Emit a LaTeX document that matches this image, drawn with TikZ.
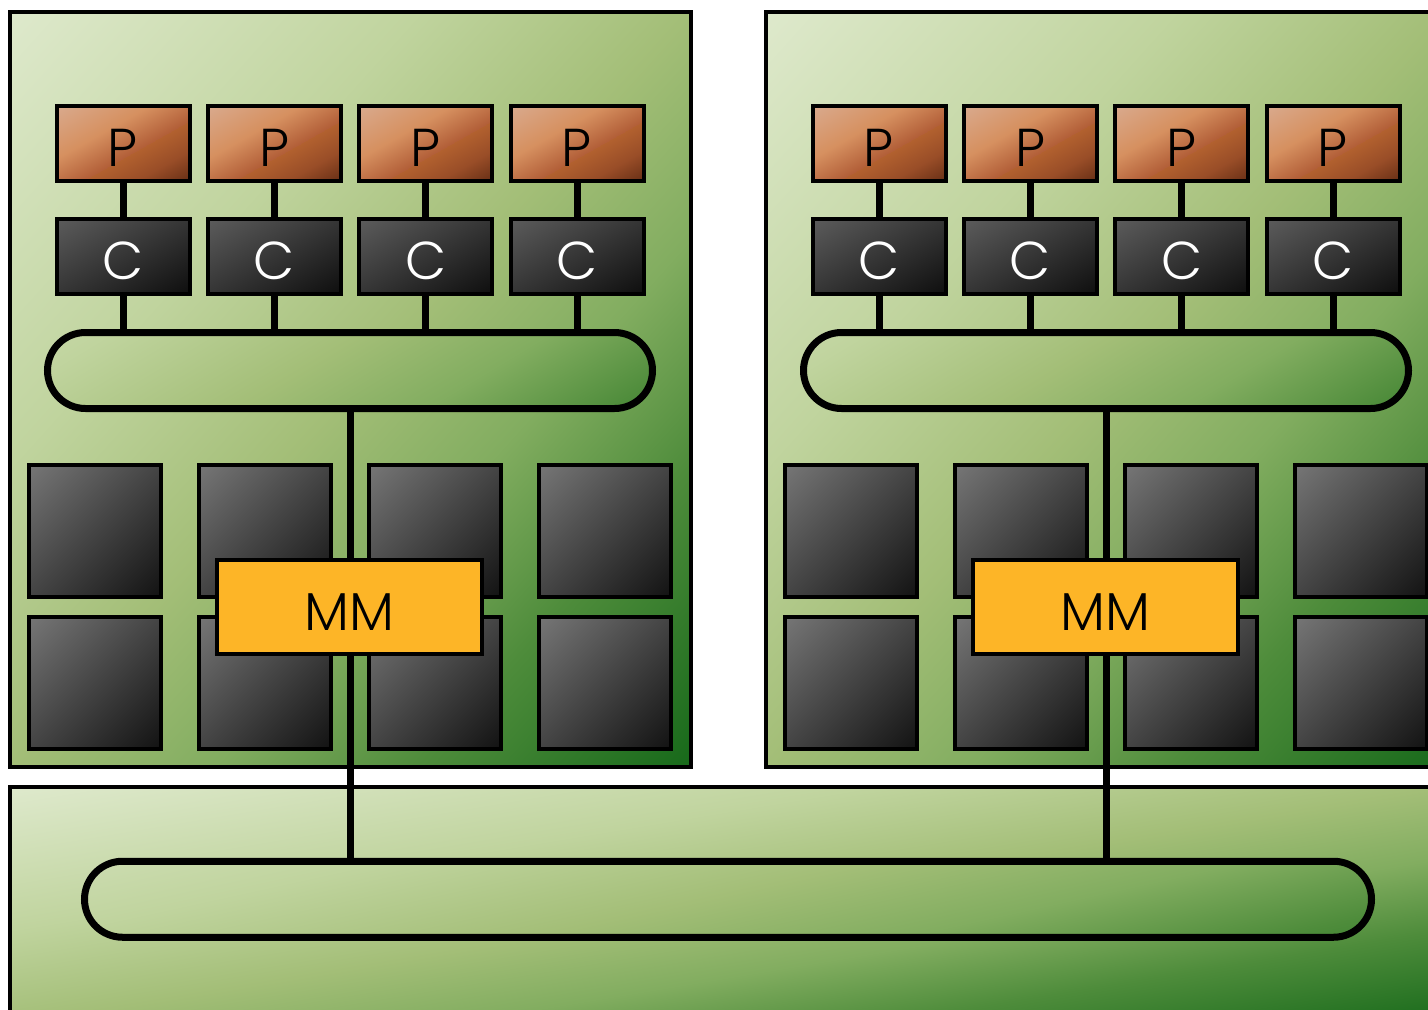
\documentclass[tikz,border=0pt]{standalone}
\usepackage{fontspec}
\setmainfont{Poppins}[UprightFont=* Light]
\usetikzlibrary{shapes.misc}
\newdimen\upx \upx=0.75pt
\definecolor{mmfill}{HTML}{FDB527}
% boards: corner-to-corner gradient, t = 0 at the upper left corner, t = 1 at the lower right corner
\pgfdeclarefunctionalshading{boardfn}{\pgfpoint{0bp}{0bp}}{\pgfpoint{100bp}{100bp}}{}{
  neg 75 add exch 25 sub add 100 div
  dup 0 lt {pop 0} if dup 1 gt {pop 1} if
  dup 0.3 lt
  { 0 sub dup -0.393 mul 0.871 add exch dup -0.277 mul 0.914 add exch -0.600 mul 0.800 add }
  { dup 0.5 lt
    { 0.3 sub dup -0.570 mul 0.753 add exch dup -0.430 mul 0.831 add exch -0.765 mul 0.620 add }
    { dup 0.65 lt
      { 0.5 sub dup -0.860 mul 0.639 add exch dup -0.447 mul 0.745 add exch -0.607 mul 0.467 add }
      { dup 0.8 lt
        { 0.65 sub dup -1.360 mul 0.510 add exch dup -0.860 mul 0.678 add exch -0.967 mul 0.376 add }
        { 0.8 sub dup -1.080 mul 0.306 add exch dup -0.685 mul 0.549 add exch -0.645 mul 0.231 add }
        ifelse }
      ifelse }
    ifelse }
  ifelse
}
% buses: mostly left-to-right gradient
\pgfdeclarefunctionalshading{busfn}{\pgfpoint{0bp}{0bp}}{\pgfpoint{100bp}{100bp}}{}{
  neg 75 add 0.002 mul exch 25 sub 0.0096 mul add 0.25 add
  dup 0 lt {pop 0} if dup 1 gt {pop 1} if
  dup 0.3 lt
  { 0 sub dup -0.393 mul 0.871 add exch dup -0.277 mul 0.914 add exch -0.600 mul 0.800 add }
  { dup 0.5 lt
    { 0.3 sub dup -0.570 mul 0.753 add exch dup -0.430 mul 0.831 add exch -0.765 mul 0.620 add }
    { dup 0.65 lt
      { 0.5 sub dup -0.860 mul 0.639 add exch dup -0.447 mul 0.745 add exch -0.607 mul 0.467 add }
      { dup 0.8 lt
        { 0.65 sub dup -1.360 mul 0.510 add exch dup -0.860 mul 0.678 add exch -0.967 mul 0.376 add }
        { 0.8 sub dup -1.080 mul 0.306 add exch dup -0.685 mul 0.549 add exch -0.645 mul 0.231 add }
        ifelse }
      ifelse }
    ifelse }
  ifelse
}
\pgfdeclarefunctionalshading{mainbusfn}{\pgfpoint{0bp}{0bp}}{\pgfpoint{100bp}{100bp}}{}{
  neg 75 add 0.0028 mul exch 25 sub 0.0104 mul add 0.18 add
  dup 0 lt {pop 0} if dup 1 gt {pop 1} if
  dup 0.3 lt
  { 0 sub dup -0.393 mul 0.871 add exch dup -0.277 mul 0.914 add exch -0.600 mul 0.800 add }
  { dup 0.5 lt
    { 0.3 sub dup -0.570 mul 0.753 add exch dup -0.430 mul 0.831 add exch -0.765 mul 0.620 add }
    { dup 0.65 lt
      { 0.5 sub dup -0.860 mul 0.639 add exch dup -0.447 mul 0.745 add exch -0.607 mul 0.467 add }
      { dup 0.8 lt
        { 0.65 sub dup -1.360 mul 0.510 add exch dup -0.860 mul 0.678 add exch -0.967 mul 0.376 add }
        { 0.8 sub dup -1.080 mul 0.306 add exch dup -0.685 mul 0.549 add exch -0.645 mul 0.231 add }
        ifelse }
      ifelse }
    ifelse }
  ifelse
}
% processors: D9AA8E, D49660 (0.35), B0612F (0.6), 9C4F28 (0.8), 6A3216 (1)
\pgfdeclarefunctionalshading{procfn}{\pgfpoint{0bp}{0bp}}{\pgfpoint{100bp}{100bp}}{}{
  neg 75 add exch 25 sub add 100 div
  dup 0 lt {pop 0} if dup 1 gt {pop 1} if
  dup 0.35 lt
  { 0 sub dup -0.034 mul 0.851 add exch dup -0.291 mul 0.667 add exch -0.521 mul 0.557 add }
  { dup 0.6 lt
    { 0.35 sub dup -0.564 mul 0.839 add exch dup -0.776 mul 0.565 add exch -0.628 mul 0.376 add }
    { dup 0.8 lt
      { 0.6 sub dup -0.490 mul 0.698 add exch dup -0.385 mul 0.380 add exch -0.145 mul 0.184 add }
      { 0.8 sub dup -0.980 mul 0.600 add exch dup -0.600 mul 0.303 add exch -0.355 mul 0.155 add }
      ifelse }
    ifelse }
  ifelse
}
\pgfdeclarefunctionalshading{cachefn}{\pgfpoint{0bp}{0bp}}{\pgfpoint{100bp}{100bp}}{}{
  neg 75 add exch 25 sub add 100 div
  dup 0 lt {pop 0} if dup 1 gt {pop 1} if
  -0.306 mul 0.361 add dup dup
}
\pgfdeclarefunctionalshading{memfn}{\pgfpoint{0bp}{0bp}}{\pgfpoint{100bp}{100bp}}{}{
  neg 75 add exch 25 sub add 100 div
  dup 0 lt {pop 0} if dup 1 gt {pop 1} if
  -0.392 mul 0.463 add dup dup
}
\begin{document}
\begin{tikzpicture}[x=0.75pt,y=-0.75pt,
  board/.style={rectangle, draw=black, line width=3pt, shading=boardfn, inner sep=0pt, outer sep=0pt},
  bus/.style={rounded rectangle, draw=black, line width=5.25pt, shading=busfn, inner sep=0pt, outer sep=0pt, minimum height=76\upx},
  lbl/.style={font=\fontsize{40}{40}\selectfont, text height=34.5pt, text depth=0pt},
  pbox/.style={rectangle, draw=black, line width=3pt, shading=procfn, inner sep=0pt, outer sep=0pt, minimum width=133\upx, minimum height=75\upx, lbl},
  cbox/.style={pbox, shading=cachefn, text=white},
  membox/.style={rectangle, draw=black, line width=3pt, shading=memfn, inner sep=0pt, outer sep=0pt, minimum width=132\upx, minimum height=132\upx},
  mmbox/.style={rectangle, draw=black, line width=3pt, fill=mmfill, inner sep=0pt, outer sep=0pt, minimum width=265\upx, minimum height=94\upx, lbl},
  wire/.style={draw=black, line width=5.25pt}
]
\useasboundingbox (0,0) rectangle (1428,1010);
\clip (0,0) rectangle (1428,1010);
% boards
\node[board, minimum width=681\upx, minimum height=755.5\upx] (boardL) at (350,389.25) {};
\node[board, minimum width=681\upx, minimum height=755.5\upx] (boardR) at (1106,389.25) {};
\node[board, minimum width=1435.5\upx, minimum height=238.5\upx] (boardB) at (727.25,905.75) {};
% bottom bus
\node[bus, shading=mainbusfn, minimum width=1287\upx] (busB) at (728,899.25) {};
\foreach \s/\dx in {L/0,R/756}{
  \node[bus, minimum width=605\upx] (bus\s) at (350+\dx,370.5) {};
  \foreach \i/\x in {1/123,2/274.3,3/425.7,4/577}{
    \node[pbox] (p\s\i) at (\x+\dx,143.5) {P};
    \node[cbox] (c\s\i) at (\x+\dx,256.5) {C};
    \draw[wire] (p\s\i.south) -- (c\s\i.north);
    \draw[wire] (c\s\i.south) -- (c\s\i.south |- bus\s.north);
  }
  \foreach \j/\x in {1/95,2/265,3/435,4/605}{
    \node[membox] (m\s\j a) at (\x+\dx,531) {};
    \node[membox] (m\s\j b) at (\x+\dx,683) {};
  }
  \node[mmbox] (mm\s) at (349.5+\dx,607) {MM};
  \draw[wire] (bus\s.south) -- (bus\s.south |- mm\s.north);
  \draw[wire] (bus\s.south |- mm\s.south) -- (bus\s.south |- busB.north);
}
\end{tikzpicture}
\end{document}
